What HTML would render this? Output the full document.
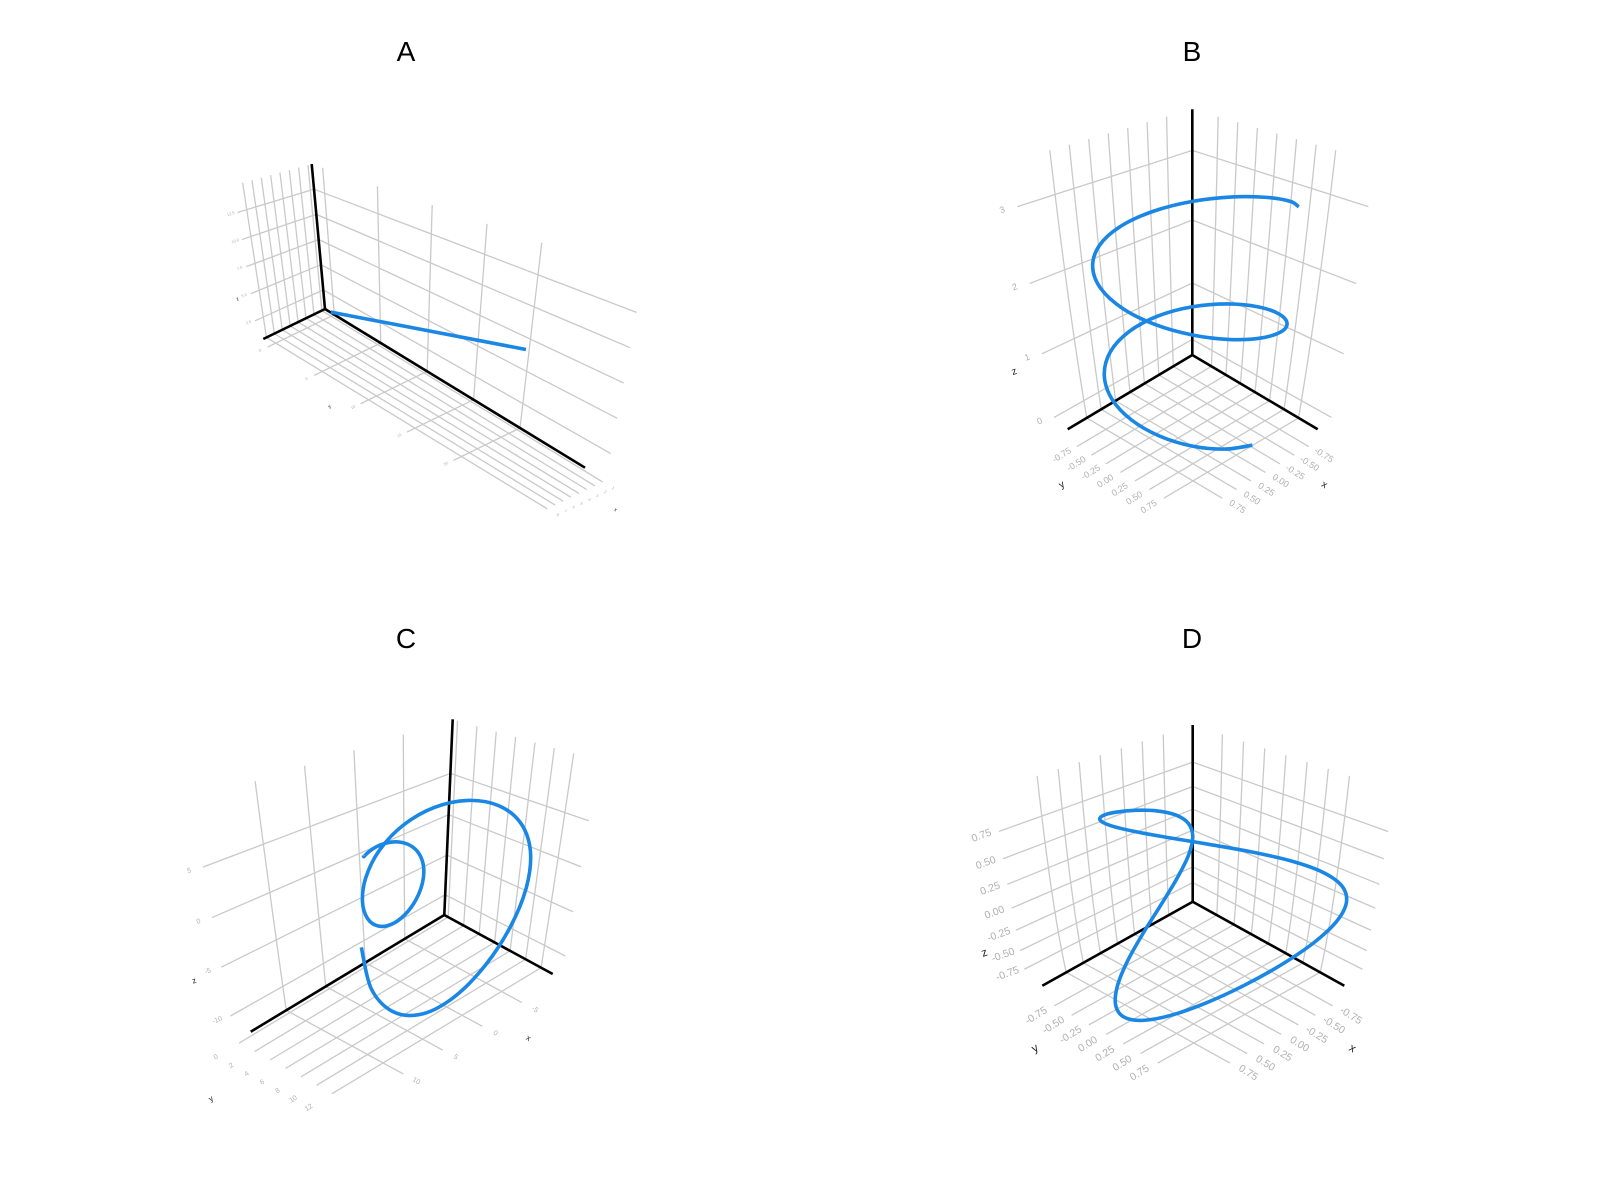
<!DOCTYPE html>
<html><head><meta charset="utf-8"><title>3D line plots</title>
<style>html,body{margin:0;padding:0;background:#fff}svg{display:block}</style></head>
<body>
<svg id="chart" xmlns="http://www.w3.org/2000/svg" width="1600" height="1200" viewBox="0 0 1600 1200">
<rect width="1600" height="1200" fill="#fff"/>
<text x="406" y="61" font-family="Liberation Sans, sans-serif" font-size="28" text-anchor="middle">A</text>
<text x="1192" y="61" font-family="Liberation Sans, sans-serif" font-size="28" text-anchor="middle">B</text>
<text x="406" y="648" font-family="Liberation Sans, sans-serif" font-size="28" text-anchor="middle">C</text>
<text x="1192" y="648" font-family="Liberation Sans, sans-serif" font-size="28" text-anchor="middle">D</text>
</svg>
<script>
// ---- Panel A data ----
const aX = [1, 1];
const aY = [0, 20];
const aZ = [1, 6.8];
const aXTicks = [1, 2, 3, 4, 5, 6, 7, 8];
const aYTicks = [0, 5, 10, 15, 20];
const aZTicks = [2.5, 5.0, 7.5, 10.0, 12.5];
// ---- Panel B data (helix) ----
const bX = [0,.383,.707,.924,1,.924,.707,.383,0,-.383,-.707,-.924,-1,-.924,-.707,-.383,0,.383,.707,.924,1,.924,.707,.383,0,-.383,-.707,-.924,-1,-.924,-.707];
const bY = [1,.924,.707,.383,0,-.383,-.707,-.924,-1,-.924,-.707,-.383,0,.383,.707,.924,1,.924,.707,.383,0,-.383,-.707,-.924,-1,-.924,-.707,-.383,0,.383,.707];
const bZ = [0,.098,.196,.295,.393,.491,.589,.687,.785,.884,.982,1.080,1.178,1.276,1.374,1.473,1.571,1.669,1.767,1.865,1.963,2.062,2.160,2.258,2.356,2.454,2.553,2.651,2.749,2.847,2.945];
const bXTicks = [-0.75,-0.5,-0.25,0,0.25,0.5,0.75];
const bYTicks = [-0.75,-0.5,-0.25,0,0.25,0.5,0.75];
const bZTicks = [0,1,2,3];
// ---- Panel C data (conical spiral) ----
const cX = [0,.363,.555,.451,0,-.751,-1.666,-2.540,-3.142,-3.265,-2.777,-1.653,0,1.954,3.887,5.442,6.283,6.168,4.998,2.855,0,-3.156,-6.109,-8.345,-9.425,-9.070,-7.219,-4.058,0,4.358,8.330,11.248,12.566];
const cY = [0,.393,.785,1.178,1.571,1.963,2.356,2.749,3.142,3.534,3.927,4.320,4.712,5.105,5.498,5.890,6.283,6.676,7.069,7.461,7.854,8.247,8.639,9.032,9.425,9.817,10.210,10.603,10.996,11.388,11.781,12.174,12.566];
const cZ = [0,.150,.555,1.088,1.571,1.814,1.666,1.052,0,-1.352,-2.777,-3.991,-4.712,-4.717,-3.887,-2.254,0,2.555,4.998,6.893,7.854,7.619,6.109,3.456,0,-3.757,-7.219,-9.796,-10.996,-10.522,-8.330,-4.659,0];
const cXTicks = [-5,0,5,10];
const cYTicks = [0,2,4,6,8,10,12];
const cZTicks = [-10,-5,0,5];
// ---- Panel D data (closed curve) ----
const dX = [1,.924,.707,.383,0,-.383,-.707,-.924,-1,-.924,-.707,-.383,0,.383,.707,.924,1,.924,.707,.383,0,-.383,-.707,-.924,-1,-.924,-.707,-.383,0,.383,.707,.924];
const dY = [0,.195,.383,.556,.707,.831,.924,.981,1,.981,.924,.831,.707,.556,.383,.195,0,-.195,-.383,-.556,-.707,-.831,-.924,-.981,-1,-.981,-.924,-.831,-.707,-.556,-.383,-.195];
const dZ = [1,.981,.924,.831,.707,.556,.383,.195,0,-.195,-.383,-.556,-.707,-.831,-.924,-.981,-1,-.981,-.924,-.831,-.707,-.556,-.383,-.195,0,.195,.383,.556,.707,.831,.924,.981];
const dXTicks = [-0.75,-0.5,-0.25,0,0.25,0.5,0.75];
const dYTicks = [-0.75,-0.5,-0.25,0,0.25,0.5,0.75];
const dZTicks = [-0.75,-0.5,-0.25,0,0.25,0.5,0.75];

const NS = 'http://www.w3.org/2000/svg';
const svg = document.getElementById('chart');

const panels = [
 {id:'a', O:[325,309], A:[-61.7,30], B:[260,158.7], Z:[-13.3,-145], ax:0.18, by:0.34, k:0,
  xr:[0.6,8.4], yr:[-1,27], zr:[0.6,15], xs:aX, ys:aY, zs:aZ, xt:aXTicks, yt:aYTicks, zt:aZTicks,
  fmtX:v=>String(v), fmtY:v=>String(v), fmtZ:v=>v.toFixed(1), fs:4, closed:false, xtv:1.2},
 {id:'b', O:[1192.3,355], A:[-124.6,74.3], B:[125.4,74.3], Z:[0,-245.7], ax:0.35, by:0.35, k:0.2,
  xr:[-1.08,1.08], yr:[-1.08,1.08], zr:[-0.3,3.55], xs:bX, ys:bY, zs:bZ, xt:bXTicks, yt:bYTicks, zt:bZTicks,
  fmtX:v=>v.toFixed(2), fmtY:v=>v.toFixed(2), fmtZ:v=>String(v), fs:9, closed:false, xtv:1.4},
 {id:'c', O:[444.3,915], A:[-193.6,116.7], B:[108.4,59], Z:[8.4,-195.7], ax:0.25, by:0.35, k:0.05,
  xr:[-10,14.5], yr:[-0.5,13.5], zr:[-12.6,11.4], xs:cX, ys:cY, zs:cZ, xt:cXTicks, yt:cYTicks, zt:cZTicks,
  fmtX:v=>String(v), fmtY:v=>String(v), fmtZ:v=>String(v), fs:7, closed:false, xtv:1.4},
 {id:'d', O:[1192.7,901.7], A:[-150.4,84], B:[151.6,84], Z:[0,-176.7], ax:0.23, by:0.28, k:0.38,
  xr:[-1.1,1.1], yr:[-1.1,1.1], zr:[-1.1,1.1], xs:dX, ys:dY, zs:dZ, xt:dXTicks, yt:dYTicks, zt:dZTicks,
  fmtX:v=>v.toFixed(2), fmtY:v=>v.toFixed(2), fmtZ:v=>v.toFixed(2), fs:10.5, closed:true, xtv:1.4}
];

function proj(c,u,v,h){
  const dx = u*c.A[0] + v*c.B[0], dy = u*c.A[1] + v*c.B[1];
  const g = (1-c.k)*h + c.k*h*h;
  return [c.O[0] + c.Z[0]*g + dx*(1+c.ax*h), c.O[1] + c.Z[1]*g + dy*(1-c.by*h)];
}
function nx(c,x){return (x-c.xr[0])/(c.xr[1]-c.xr[0]);}
function ny(c,y){return (y-c.yr[0])/(c.yr[1]-c.yr[0]);}
function nz(c,z){return (z-c.zr[0])/(c.zr[1]-c.zr[0]);}
function pts(arr){return arr.map(p=>p[0].toFixed(2)+','+p[1].toFixed(2)).join(' ');}
function seg(c,f,n){const r=[];for(let i=0;i<=n;i++)r.push(f(i/n));return r;}
function line(parent,points,stroke,w){
  const el=document.createElementNS(NS,'polyline');
  el.setAttribute('points',pts(points));
  el.setAttribute('fill','none');
  el.setAttribute('stroke',stroke);
  el.setAttribute('stroke-width',w);
  parent.appendChild(el);
  return el;
}
function label(parent,p,txt,fs,rot,fill){
  const t=document.createElementNS(NS,'text');
  t.setAttribute('x',p[0].toFixed(1));
  t.setAttribute('y',p[1].toFixed(1));
  t.setAttribute('font-family','Liberation Sans, sans-serif');
  t.setAttribute('font-size',fs);
  t.setAttribute('fill',fill);
  t.setAttribute('text-anchor','middle');
  t.setAttribute('dominant-baseline','middle');
  t.setAttribute('transform','rotate('+rot+' '+p[0].toFixed(1)+' '+p[1].toFixed(1)+')');
  t.textContent=txt;
  parent.appendChild(t);
  return t;
}
function smoothPath(P,closed){
  const n=P.length;let d='M'+P[0][0].toFixed(2)+','+P[0][1].toFixed(2);
  const get=i=>closed?P[(i+n)%n]:P[Math.max(0,Math.min(n-1,i))];
  const last=closed?n:n-1;
  for(let i=0;i<last;i++){
    const p0=get(i-1),p1=get(i),p2=get(i+1),p3=get(i+2);
    const c1=[p1[0]+(p2[0]-p0[0])/6,p1[1]+(p2[1]-p0[1])/6];
    const c2=[p2[0]-(p3[0]-p1[0])/6,p2[1]-(p3[1]-p1[1])/6];
    d+=' C'+c1[0].toFixed(2)+','+c1[1].toFixed(2)+' '+c2[0].toFixed(2)+','+c2[1].toFixed(2)+' '+p2[0].toFixed(2)+','+p2[1].toFixed(2);
  }
  if(closed)d+=' Z';
  return d;
}

const GRID='#c9c9c9', EXT=1.08, LAB=1.2;
panels.forEach(c=>{
  const g=document.createElementNS(NS,'g');
  
  
  svg.appendChild(g);
  const grid=document.createElementNS(NS,'g');
  
  
  g.appendChild(grid);
  c.xt.forEach(x=>{
    const u=nx(c,x);
    const fl=line(grid,[proj(c,u,0,0),proj(c,u,EXT,0)],GRID,1.3);
    
    
    const wl=line(grid,seg(c,t=>proj(c,u,0,t),12),GRID,1.3);
    
    
    const lb=label(grid,proj(c,u,c.id==='a'?1.12:LAB,0),c.fmtX(x),c.fs,32,'#b0b0b0');
    
    
  });
  c.yt.forEach(y=>{
    const v=ny(c,y);
    const fl=line(grid,[proj(c,0,v,0),proj(c,EXT,v,0)],GRID,1.3);
    
    
    const wl=line(grid,seg(c,t=>proj(c,0,v,t),12),GRID,1.3);
    
    
    const lb=label(grid,proj(c,LAB,v,0),c.fmtY(y),c.fs,-32,'#b0b0b0');
    
    
  });
  c.zt.forEach(z=>{
    const h=nz(c,z);
    const l1=line(grid,seg(c,t=>proj(c,t*EXT,0,h),8),GRID,1.3);
    
    
    const l2=line(grid,seg(c,t=>proj(c,0,t*EXT,h),8),GRID,1.3);
    
    
    const p=proj(c,EXT+0.02,0,h);
    const lb=label(grid,[p[0]-c.fs*1.3,p[1]+c.fs*0.3],c.fmtZ(z),c.fs,-20,'#b0b0b0');
    
    
  });
  // axis titles
  const tx=label(g,proj(c,0.35,c.xtv,0),'x',c.fs+1,30,'#222');
  
  
  const ty=label(g,proj(c,LAB+0.2,0.35,0),'y',c.fs+1,-30,'#222');
  
  
  const zp=proj(c,EXT+0.05,0,0.28);
  const tz=label(g,[zp[0]-c.fs*2.6,zp[1]],'z',c.fs+1,-20,'#222');
  
  
  // black axes
  const ax1=line(g,[proj(c,0,0,0),proj(c,1,0,0)],'#000',2.6);
  
  
  const ax2=line(g,[proj(c,0,0,0),proj(c,0,1,0)],'#000',2.6);
  
  
  const ax3=line(g,[proj(c,0,0,0),proj(c,0,0,1)],'#000',2.6);
  
  
  // series
  const P=c.xs.map((x,i)=>proj(c,nx(c,x),ny(c,c.ys[i]),nz(c,c.zs[i])));
  const path=document.createElementNS(NS,'path');
  path.setAttribute('d',c.xs.length>2?smoothPath(P,c.closed):'M'+P[0].join(',')+' L'+P[1].join(','));
  path.setAttribute('fill','none');
  path.setAttribute('stroke','#1b87e4');
  path.setAttribute('stroke-width','3.6');
  path.setAttribute('stroke-linejoin','round');
  
  
  g.appendChild(path);
});
</script>
</body></html>
